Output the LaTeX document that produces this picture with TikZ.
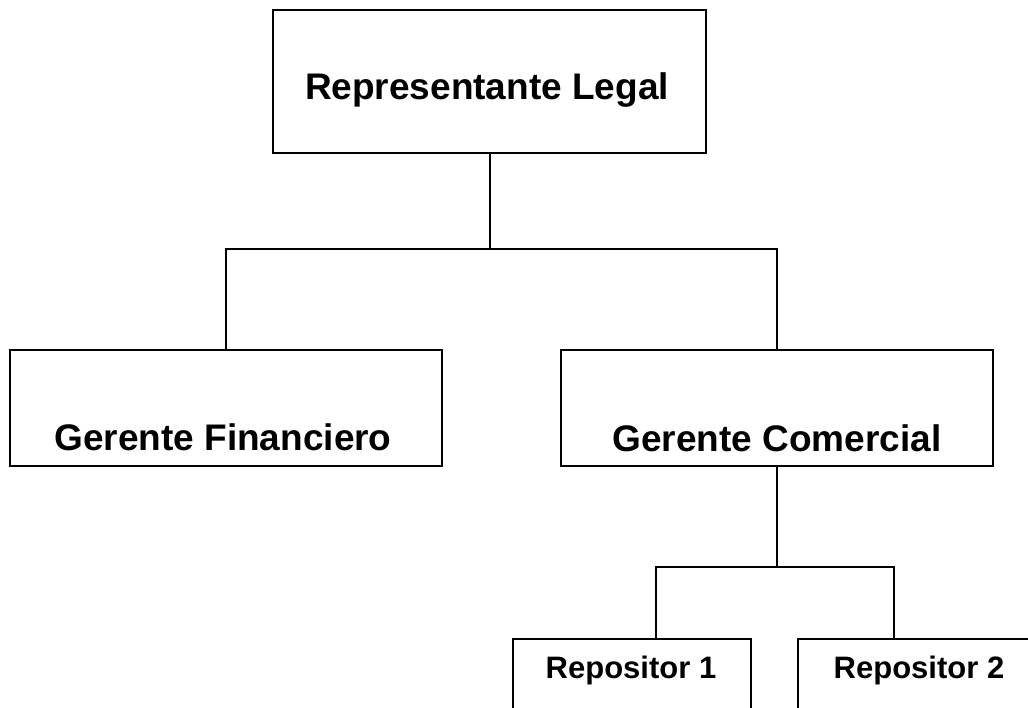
\documentclass[tikz,border=0pt]{standalone}
\usepackage{fontspec}
\newfontfamily\orgfont{Liberation Sans}
\usetikzlibrary{calc}

\begin{document}
\begin{tikzpicture}[x=1pt, y=-1pt, line width=2pt,
        box/.style = {draw, rectangle, minimum width=432pt, inner sep=0pt},
        small/.style = {draw, rectangle, minimum width=238pt, minimum height=140pt, anchor=north, inner sep=0pt},
        big/.style = {font=\fontsize{37}{44}\selectfont\orgfont\bfseries},
        little/.style = {font=\fontsize{31}{37}\selectfont\orgfont\bfseries}]
        \useasboundingbox (0,0) rectangle (1028,707);
        \clip (0,0) rectangle (1028,707);
        \node[box, minimum width=433pt, minimum height=143pt] (rl) at (489.5,81.5) {};
        \node[big] (rlT) at (487,90) {Representante Legal};
        \node[box, minimum height=116pt] (gf) at (226,408) {};
        \node[big] (gfT) at (223,437) {Gerente Financiero};
        \node[box, minimum height=116pt] (gc) at (777,408) {};
        \node[big] (gcT) at (777,438) {Gerente Comercial};
        \node[small] (r1) at (632,638) {};
        \node[little] (r1T) at (631,670) {Repositor 1};
        \node[small] (r2) at (917,638) {};
        \node[little] (r2T) at (919,670) {Repositor 2};
        \draw (rl.south) -- ++(0,95) coordinate (j1);
        \draw (j1) -| (gf.north);
        \draw (j1) -| (gc.north);
        \draw (gc.south) -- ++(0,100) coordinate (j2);
        \draw (j2) -| ([xshift=24pt]r1.north);
        \draw (j2) -| ([xshift=-23pt]r2.north);
    \end{tikzpicture}
\end{document}
